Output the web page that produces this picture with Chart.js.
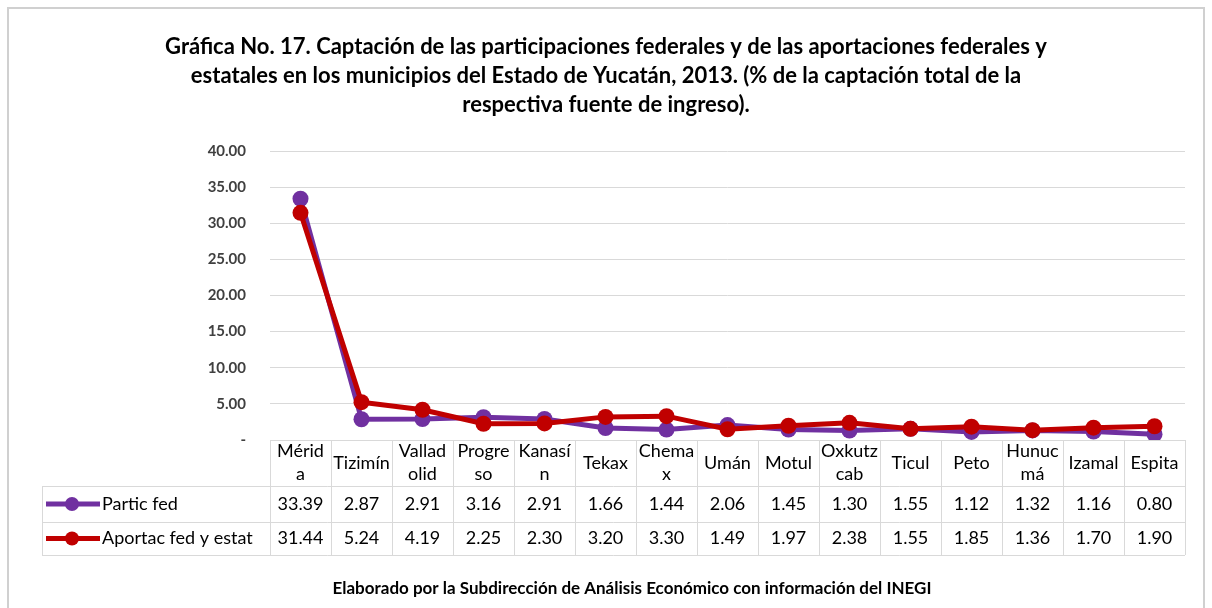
<!DOCTYPE html>
<html>
<head>
<meta charset="utf-8">
<script src="https://cdn.jsdelivr.net/npm/chart.js@4"></script>
<style>
  body { margin: 0; background: #fff; }
  canvas { display: block; }
</style>
</head>
<body>
<canvas id="chart" width="1212" height="608"></canvas>
<script>
const municipios = ['Mérida', 'Tizimín', 'Valladolid', 'Progreso', 'Kanasín', 'Tekax', 'Chemax', 'Umán',
  'Motul', 'Oxkutzcab', 'Ticul', 'Peto', 'Hunucmá', 'Izamal', 'Espita'];
// header text as it wraps in the data table
const headerLines = [['Mérid', 'a'], ['Tizimín'], ['Vallad', 'olid'], ['Progre', 'so'], ['Kanasí', 'n'], ['Tekax'],
  ['Chema', 'x'], ['Umán'], ['Motul'], ['Oxkutz', 'cab'], ['Ticul'], ['Peto'], ['Hunuc', 'má'], ['Izamal'], ['Espita']];
const particFed = [33.39, 2.87, 2.91, 3.16, 2.91, 1.66, 1.44, 2.06, 1.45, 1.30, 1.55, 1.12, 1.32, 1.16, 0.80];
const aportFedEstat = [31.44, 5.24, 4.19, 2.25, 2.30, 3.20, 3.30, 1.49, 1.97, 2.38, 1.55, 1.85, 1.36, 1.70, 1.90];
const titleLines = [
  'Gráfica No. 17. Captación de las participaciones federales y de las aportaciones federales y',
  'estatales en los municipios del Estado de Yucatán, 2013. (% de la captación total de la',
  'respectiva fuente de ingreso).'
];
const footer = 'Elaborado por la Subdirección de Análisis Económico con información del INEGI';

const FONT = 'Lato, "Open Sans", sans-serif';
const PURPLE = '#7030A0';
const RED = '#C00000';

// frame, title, footer and the data table under the plot
const tablePlugin = {
  id: 'dataTable',
  beforeDraw(chart) {
    const ctx = chart.ctx;
    ctx.save();
    ctx.fillStyle = '#fff';
    ctx.fillRect(0, 0, chart.width, chart.height);
    ctx.strokeStyle = '#d0d0d0';
    ctx.lineWidth = 2;
    ctx.strokeRect(8, 8, 1196, 700);
    ctx.restore();
  },
  afterDraw(chart) {
    const ctx = chart.ctx;
    const x = chart.scales.x;
    const area = chart.chartArea;
    const half = (x.getPixelForValue(1) - x.getPixelForValue(0)) / 2;
    const rowTop = [area.bottom, area.bottom + 46, area.bottom + 82, area.bottom + 115];
    const legLeft = 42;

    ctx.save();
    // title
    ctx.fillStyle = '#000';
    ctx.textAlign = 'center';
    ctx.textBaseline = 'middle';
    ctx.font = 'bold 22px ' + FONT;
    titleLines.forEach((t, i) => ctx.fillText(t, 606, 47 + i * 29));
    // footer
    ctx.font = 'bold 17px ' + FONT;
    ctx.fillText(footer, 632, 589);

    // grid lines of the table
    ctx.strokeStyle = '#d9d9d9';
    ctx.lineWidth = 1;
    ctx.beginPath();
    ctx.moveTo(area.left, rowTop[0] + 0.5); ctx.lineTo(area.right, rowTop[0] + 0.5);
    for (let r = 1; r < 4; r++) {
      ctx.moveTo(legLeft, rowTop[r] + 0.5); ctx.lineTo(area.right, rowTop[r] + 0.5);
    }
    ctx.moveTo(legLeft + 0.5, rowTop[1]); ctx.lineTo(legLeft + 0.5, rowTop[3]);
    for (let i = 0; i <= municipios.length; i++) {
      const px = Math.round(x.getPixelForValue(i) - half) + 0.5;
      ctx.moveTo(px, rowTop[0]); ctx.lineTo(px, rowTop[3]);
    }
    ctx.stroke();

    // header cells
    ctx.fillStyle = '#000';
    ctx.font = '18px ' + FONT;
    headerLines.forEach((lines, i) => {
      const cx = x.getPixelForValue(i);
      const mid = (rowTop[0] + rowTop[1]) / 2;
      lines.forEach((l, j) => {
        ctx.fillText(l, cx, mid + (j - (lines.length - 1) / 2) * 23);
      });
    });

    // value rows with legend keys
    const series = chart.data.datasets;
    series.forEach((ds, r) => {
      const cy = (rowTop[r + 1] + rowTop[r + 2]) / 2;
      ds.data.forEach((v, i) => {
        ctx.textAlign = 'center';
        ctx.fillText(v.toFixed(2), x.getPixelForValue(i), cy);
      });
      ctx.strokeStyle = ds.borderColor;
      ctx.lineWidth = 5;
      ctx.beginPath();
      ctx.moveTo(46, cy); ctx.lineTo(100, cy);
      ctx.stroke();
      ctx.fillStyle = ds.borderColor;
      ctx.beginPath();
      ctx.arc(72, cy, 7, 0, Math.PI * 2);
      ctx.fill();
      ctx.fillStyle = '#000';
      ctx.textAlign = 'left';
      ctx.fillText(ds.label, 102, cy);
    });
    ctx.restore();
  }
};

new Chart(document.getElementById('chart'), {
  type: 'line',
  data: {
    labels: municipios,
    datasets: [
      {
        label: 'Partic fed',
        data: particFed,
        borderColor: PURPLE,
        backgroundColor: PURPLE,
        borderWidth: 5,
        pointRadius: 8,
        pointBorderWidth: 0,
        order: 1
      },
      {
        label: 'Aportac fed y estat',
        data: aportFedEstat,
        borderColor: RED,
        backgroundColor: RED,
        borderWidth: 5,
        pointRadius: 8,
        pointBorderWidth: 0,
        order: 0
      }
    ]
  },
  options: {
    responsive: false,
    animation: false,
    layout: { padding: { left: 0, right: 27, top: 151, bottom: 168 } },
    plugins: {
      legend: { display: false },
      title: { display: false },
      tooltip: { enabled: false }
    },
    scales: {
      x: {
        offset: true,
        ticks: { display: false },
        grid: { display: false, drawTicks: false },
        border: { display: false }
      },
      y: {
        min: 0,
        max: 40,
        afterFit(scale) { scale.width = 270; },
        ticks: {
          stepSize: 5,
          padding: 24,
          color: '#404040',
          font: { family: FONT, size: 15, weight: 'bold' },
          callback: v => (v === 0 ? '-' : v.toFixed(2))
        },
        grid: { color: '#d9d9d9', drawTicks: false },
        border: { display: false }
      }
    }
  },
  plugins: [tablePlugin]
});
</script>
</body>
</html>
